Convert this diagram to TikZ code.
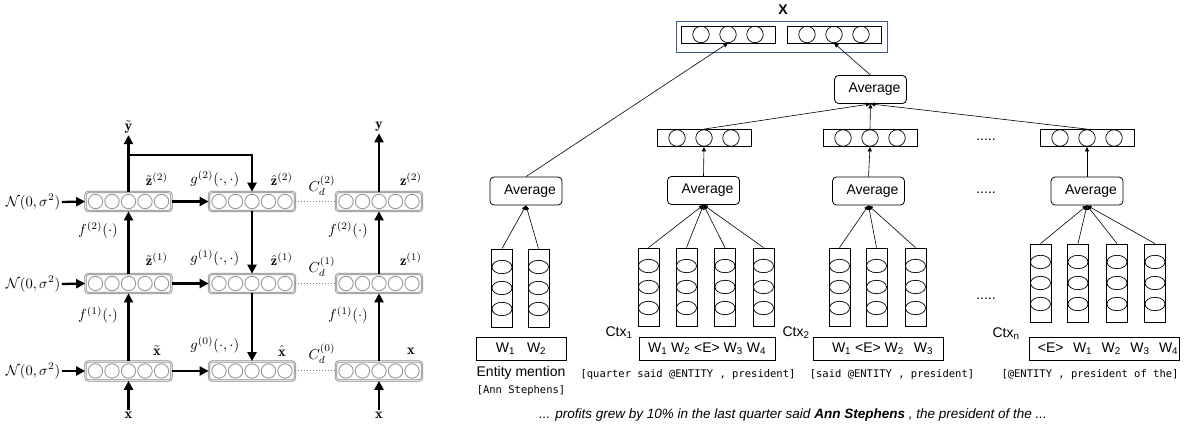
\documentclass[tikz,border=0pt]{standalone}
\usepackage{fontspec}
\usetikzlibrary{arrows.meta}
\newfontfamily\arial{Liberation Sans}
\newfontfamily\consol{DejaVu Sans Mono}
\definecolor{xblue}{RGB}{62,88,148}
\newcommand{\Wsub}[1]{W\textsubscript{#1}}
\newcommand{\gfun}[1]{$g^{(#1)}(\cdot,\cdot)$}
\newcommand{\ffun}[1]{$f^{(#1)}(\cdot)$}
\newcommand{\cost}[1]{$C_d^{(#1)}$}

% one layer of the ladder: name, x, y
\newcommand{\ladderrow}[3]{%
  \node[lbox] (#1) at (#2,#3) {};
  \foreach \k in {-2,...,2}
    \draw[lcirc] (#2+\k*16.5,#3) circle (7.2pt);}
% vector of three units: name, x, y
\newcommand{\vecbox}[3]{%
  \node[vbox] (#1) at (#2,#3) {};
  \node[unit] (#1-1) at (#2-27,#3) {};
  \node[unit] (#1-2) at (#2,#3) {};
  \node[unit] (#1-3) at (#2+27,#3) {};}
% word embedding column: name, x, y
\newcommand{\wordcol}[3]{%
  \node[wbox] (#1) at (#2,#3) {};
  \foreach \dy in {-21,0,21}
    \draw[line width=0.7pt] (#2,#3+\dy) ellipse [x radius=10pt,y radius=6.7pt];}

\begin{document}
\begin{tikzpicture}[x=1pt,y=-1pt,
  lbox/.style={draw=gray!90,double=gray!25,double distance=0.9pt,line width=0.7pt,
    rounded corners=3pt,minimum width=86pt,minimum height=19pt,inner sep=0pt},
  lcirc/.style={draw=gray!80,fill=white,line width=0.9pt},
  fat/.style={line width=2.3pt,-{Triangle[length=9pt,width=9pt]}},
  lab/.style={scale=1.45,inner sep=1pt},
  vbox/.style={draw,line width=0.8pt,minimum width=94pt,minimum height=17pt,inner sep=0pt},
  unit/.style={draw,circle,line width=0.7pt,minimum size=16.5pt,inner sep=0pt},
  wbox/.style={draw,line width=0.8pt,minimum width=21pt,minimum height=78pt,inner sep=0pt},
  avg/.style={draw,line width=0.8pt,rounded corners=4pt,minimum width=72pt,minimum height=28pt,
    inner sep=0pt,font=\arial\fontsize{14}{16}\selectfont},
  tbox/.style={draw,line width=0.8pt,minimum height=23pt,inner sep=0pt,
    font=\arial\fontsize{14}{16}\selectfont},
  sans/.style={font=\arial\fontsize{14}{16}\selectfont,inner sep=0pt},
  code/.style={font=\consol\fontsize{10.5}{12}\selectfont,inner sep=0pt},
  ar/.style={line width=0.6pt,-{Triangle[length=4.5pt,width=4pt]}}]
\useasboundingbox (0,0) rectangle (1192,430);

% ladder network
\ladderrow{zt2}{128.5}{201.5} \ladderrow{zh2}{252}{201.5} \ladderrow{zc2}{379}{201.5}
\ladderrow{zt1}{128.5}{283.5} \ladderrow{zh1}{252}{283.5} \ladderrow{zc1}{379}{283.5}
\ladderrow{xt}{128.5}{371}    \ladderrow{xh}{252}{371}    \ladderrow{xc}{379}{371}

\node[lab] (nz2) at (33,202) {$\mathcal{N}(0,\sigma^2)$};
\node[lab] (nz1) at (33,284) {$\mathcal{N}(0,\sigma^2)$};
\node[lab] (nz0) at (33,371) {$\mathcal{N}(0,\sigma^2)$};
\node[lab] (yt) at (128.5,127) {$\tilde{\mathbf{y}}$};
\node[lab] (yc) at (379,127) {$\mathbf{y}$};
\node[lab] (xb1) at (128.5,415) {$\mathbf{x}$};
\node[lab] (xb2) at (379,415) {$\mathbf{x}$};

\node[lab] (lzt2) at (157,179) {$\tilde{\mathbf{z}}^{(2)}$};
\node[lab] (lzh2) at (282,179) {$\hat{\mathbf{z}}^{(2)}$};
\node[lab] (lzc2) at (411,179) {$\mathbf{z}^{(2)}$};
\node[lab,anchor=east] (lg2) at (241,179) {\gfun2};
\node[lab] (lc2) at (322,186) {\cost2};
\node[lab] (lf2) at (98,230) {\ffun2};
\node[lab] (lf2r) at (348,230) {\ffun2};

\node[lab] (lzt1) at (157,259) {$\tilde{\mathbf{z}}^{(1)}$};
\node[lab] (lzh1) at (282,259) {$\hat{\mathbf{z}}^{(1)}$};
\node[lab] (lzc1) at (411,259) {$\mathbf{z}^{(1)}$};
\node[lab,anchor=east] (lg1) at (241,258) {\gfun1};
\node[lab] (lc1) at (322,267) {\cost1};
\node[lab] (lf1) at (98,315) {\ffun1};
\node[lab] (lf1r) at (348,315) {\ffun1};

\node[lab] (lxt) at (157,351) {$\tilde{\mathbf{x}}$};
\node[lab] (lxh) at (282,351) {$\hat{\mathbf{x}}$};
\node[lab] (lxc) at (411,351) {$\mathbf{x}$};
\node[lab,anchor=east] (lg0) at (241,345) {\gfun0};
\node[lab] (lc0) at (322,354) {\cost0};

\draw[fat] (nz2.east) -- (zt2.west);
\draw[fat] (nz1.east) -- (zt1.west);
\draw[fat] (nz0.east) -- (xt.west);
\draw[fat] (zt2.east) -- (zh2.west);
\draw[fat] (zt1.east) -- (zh1.west);
\draw[fat] (xt.east) -- (xh.west);
\draw[gray,dotted,line width=1pt] (zh2.east) -- (zc2.west);
\draw[gray,dotted,line width=1pt] (zh1.east) -- (zc1.west);
\draw[gray,dotted,line width=1pt] (xh.east) -- (xc.west);

\draw[fat] (xb1.north) -- (xt.south);
\draw[fat] (xt.north) -- (zt1.south);
\draw[fat] (zt1.north) -- (zt2.south);
\draw[fat] (zt2.north) -- (yt.south);
\coordinate (br) at (128.5,155);
\draw[fat] (br) -| (zh2.north);
\draw[fat] (zh2.south) -- (zh1.north);
\draw[fat] (zh1.south) -- (xh.north);
\draw[fat] (xb2.north) -- (xc.south);
\draw[fat] (xc.north) -- (zc1.south);
\draw[fat] (zc1.north) -- (zc2.south);
\draw[fat] (zc2.north) -- (yc.south);

% entity and context encoders
\node[font=\arial\bfseries\fontsize{14}{16}\selectfont,inner sep=0pt] (X) at (783,10) {X};
\node[draw=xblue,line width=0.9pt,minimum width=211pt,minimum height=31pt,inner sep=0pt] (xin) at (781.5,36.5) {};
\vecbox{xl}{728}{34.5} \vecbox{xr}{834}{34.5}

\node[avg] (avgT) at (870.5,89.5) {\hspace*{8pt}Average};
\vecbox{v1}{704}{138} \vecbox{v2}{870}{138} \vecbox{vn}{1087}{138}
\node[avg] (avgE) at (526,191) {\hspace*{8pt}Average};
\node[avg] (avg1) at (703.5,190.5) {\hspace*{8pt}Average};
\node[avg] (avg2) at (868.5,191) {\hspace*{8pt}Average};
\node[avg] (avgn) at (1087,191) {\hspace*{8pt}Average};

\wordcol{em1}{502}{288} \wordcol{em2}{538.5}{288}
\wordcol{c1a}{648.5}{287} \wordcol{c1b}{686.5}{287} \wordcol{c1c}{725}{287} \wordcol{c1d}{763.5}{287}
\wordcol{c2a}{839.5}{287} \wordcol{c2b}{876.5}{287} \wordcol{c2c}{915.5}{287}
\wordcol{cna}{1040.5}{283} \wordcol{cnb}{1078}{283} \wordcol{cnc}{1117}{283} \wordcol{cnd}{1155}{283}

\node[tbox,minimum width=90pt] (tE) at (521,348.5) {\raisebox{-3pt}{\Wsub1\hspace{12pt}\Wsub2}};
\node[tbox,minimum width=136pt] (t1) at (707,348.5) {\Wsub1 \Wsub2 <E> \Wsub3 \Wsub4};
\node[tbox,minimum width=130pt] (t2) at (878,348.5) {\hspace*{9pt}\Wsub1 <E> \Wsub2\hspace{10pt}\Wsub3};
\node[tbox,minimum width=150pt] (tn) at (1104,348.5) {\hspace*{8pt}<E>\hspace{9.5pt}\Wsub1\hspace{9.5pt}\Wsub2\hspace{9.5pt}\Wsub3\hspace{9.5pt}\Wsub4};

\node[sans] (l1) at (619,333) {Ctx\textsubscript{1}};
\node[sans] (l2) at (796,333) {Ctx\textsubscript{2}};
\node[sans] (ln) at (1006,334) {Ctx\textsubscript{n}};
\node[sans] (em) at (521,373) {Entity mention};
\node[code] (emc) at (521,391) {[Ann Stephens]};
\node[code] (k1) at (688,375) {[quarter said @ENTITY , president]};
\node[code] (k2) at (892,375) {[said @ENTITY , president]};
\node[code] (kn) at (1090,375) {[@ENTITY , president of the]};
\node[sans] (d1) at (986,140) {.....};
\node[sans] (d2) at (986,193) {.....};
\node[sans] (d3) at (986,299) {.....};
\node[font=\arial\itshape\fontsize{13.5}{15}\selectfont,inner sep=0pt] (sent) at (793,415)
  {... profits grew by 10\% in the last quarter said \textbf{Ann Stephens} , the president of the ...};

\draw[ar] (em1.north) -- (avgE.south);
\draw[ar] (em2.north) -- (avgE.south);
\foreach \w in {c1a,c1b,c1c,c1d} \draw[ar] (\w.north) -- (avg1.south);
\foreach \w in {c2a,c2b,c2c} \draw[ar] (\w.north) -- (avg2.south);
\foreach \w in {cna,cnb,cnc,cnd} \draw[ar] (\w.north) -- (avgn.south);
\draw[ar] (avg1.north) -- (v1.south);
\draw[ar] (avg2.north) -- (v2.south);
\draw[ar] (avgn.north) -- (vn.south);
\draw[ar] (v1.north) -- (avgT.south);
\draw[ar] (v2.north) -- (avgT.south);
\draw[ar] (vn.north) -- (avgT.south);
\draw[ar] (avgE.north) -- (xl-2.south);
\draw[ar] (avgT.north) -- (xr-2.south);
\end{tikzpicture}
\end{document}
